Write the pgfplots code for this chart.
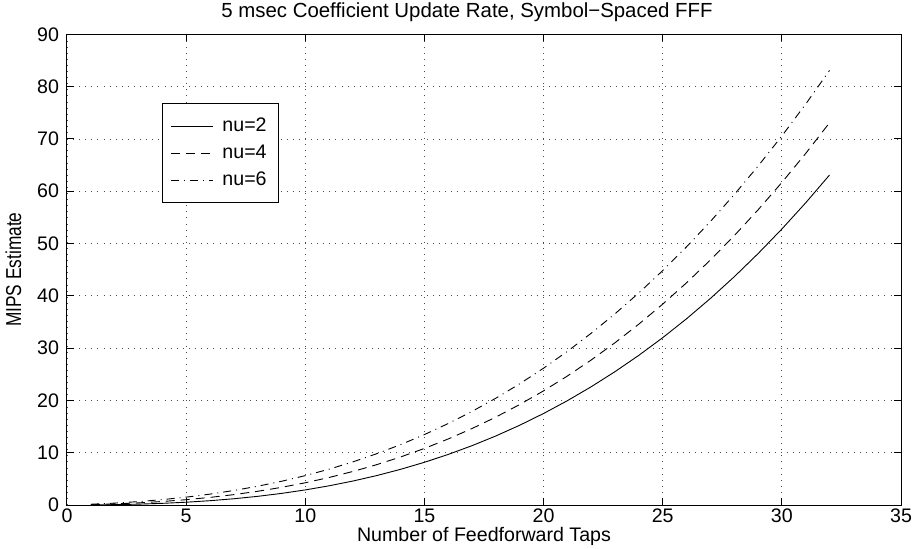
\documentclass[border=0pt]{standalone}
\usepackage{pgfplots}
\pgfplotsset{compat=1.18}
\usepackage{fontspec}
\setmainfont{Liberation Sans}
\begin{document}
\begin{tikzpicture}
\begin{axis}[
  scale only axis,
  width=417pt, height=235.35pt,
  xmin=0, xmax=35, ymin=0, ymax=90,
  xtick={0,5,...,35}, ytick={0,10,...,90},
  tick align=inside, major tick length=3.5pt,
  xtick pos=both, ytick pos=both,
  grid=major,
  major grid style={line width=0.4pt, dash pattern=on 0.45pt off 2.6pt, black!70},
  axis line style={line width=0.5pt},
  tick style={line width=0.5pt, black},
  /pgf/number format/assume math mode=true,
  ticklabel style={font=\fontsize{9.8}{11}\selectfont},
  xticklabel style={yshift=1.5pt},
  yticklabel style={xshift=-0.5pt},
  label style={font=\fontsize{9.8}{11}\selectfont},
  title style={font=\fontsize{10.2}{12}\selectfont, yshift=-3pt, xshift=-8.5pt},
  title={5 msec Coefficient Update Rate, Symbol\textminus Spaced FFF},
  xlabel={Number of Feedforward Taps},
  ylabel={\fontsize{10.8}{12}\selectfont\scalebox{0.8}[1]{MIPS Estimate}},
  xlabel style={yshift=4.5pt},
  ylabel style={yshift=1pt},
  legend style={at={(0.114,0.854)}, anchor=north west, draw=black, line width=0.6pt,
    font=\fontsize{9.8}{11}\selectfont, inner xsep=4pt, inner ysep=5pt, row sep=1.3pt,
    cells={anchor=west}},
  legend image code/.code={\draw[#1, line width=0.4pt] (0pt,0pt) -- (21pt,0pt);},
  every axis plot/.append style={line width=0.45pt, black},
]
\addplot[solid] coordinates {
(1,0.0155)(2,0.0678)(3,0.1659)(4,0.3188)(5,0.5353)(6,0.8244)(7,1.1951)(8,1.6562)
(9,2.2168)(10,2.8857)(11,3.6718)(12,4.5842)(13,5.6317)(14,6.8233)(15,8.1679)(16,9.6745)
(17,11.3519)(18,13.2091)(19,15.255)(20,17.4987)(21,19.949)(22,22.615)(23,25.505)(24,28.629)
(25,31.995)(26,35.612)(27,39.490)(28,43.637)(29,48.061)(30,52.773)(31,57.781)(32,63.094)};
\addlegendentry{\hspace{2.5pt}nu=2\hspace{14pt}}
\addplot[dash pattern=on 4.5pt off 3pt] coordinates {
(1,0.0803)(2,0.2134)(3,0.408)(4,0.674)(5,1.019)(6,1.453)(7,1.984)(8,2.622)
(9,3.375)(10,4.253)(11,5.263)(12,6.416)(13,7.720)(14,9.185)(15,10.818)(16,12.629)
(17,14.627)(18,16.820)(19,19.219)(20,21.831)(21,24.666)(22,27.732)(23,31.038)(24,34.594)
(25,38.409)(26,42.490)(27,46.848)(28,51.491)(29,56.428)(30,61.668)(31,67.220)(32,73.093)};
\addlegendentry{\hspace{2.5pt}nu=4\hspace{14pt}}
\addplot[dash pattern=on 4pt off 2.5pt on 0.5pt off 2.5pt] coordinates {
(1,0.1451)(2,0.359)(3,0.651)(4,1.029)(5,1.503)(6,2.081)(7,2.773)(8,3.588)
(9,4.534)(10,5.620)(11,6.855)(12,8.249)(13,9.809)(14,11.546)(15,13.468)(16,15.583)
(17,17.901)(18,20.432)(19,23.182)(20,26.163)(21,29.382)(22,32.849)(23,36.571)(24,40.560)
(25,44.823)(26,49.368)(27,54.207)(28,59.346)(29,64.795)(30,70.563)(31,76.659)(32,83.093)};
\addlegendentry{\hspace{2.5pt}nu=6\hspace{14pt}}
\end{axis}
\pgfresetboundingbox
\path (-33.5pt,-21.5pt) rectangle (424pt,252.5pt);
\end{tikzpicture}
\end{document}
